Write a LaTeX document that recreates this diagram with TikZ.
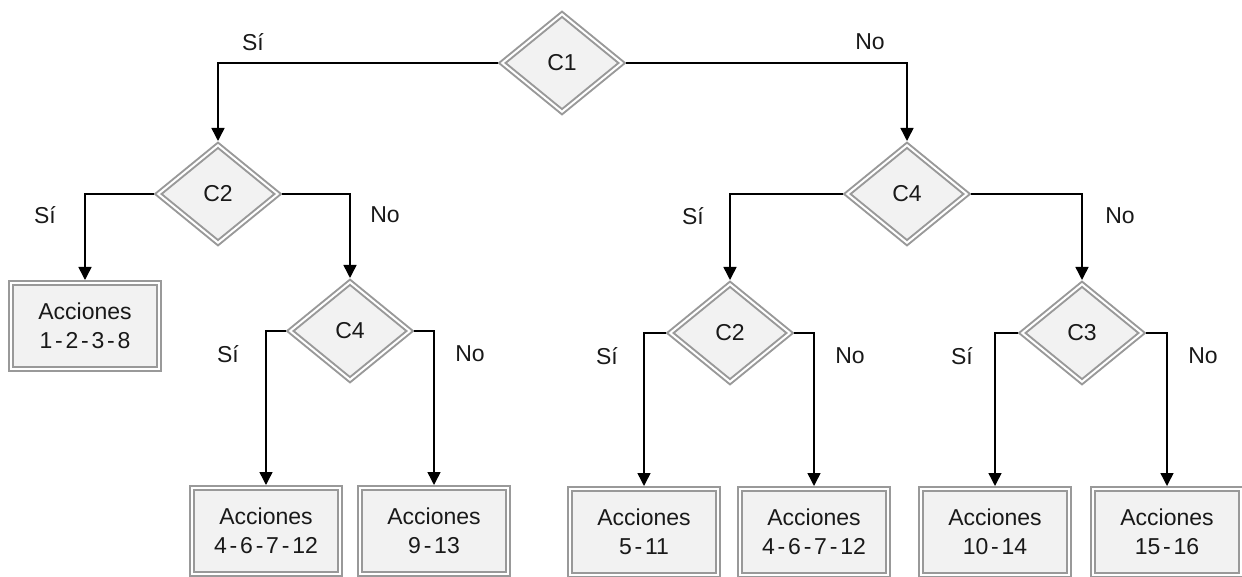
\documentclass[tikz,border=0pt]{standalone}
\usepackage{fontspec}
\setmainfont{Liberation Sans}
\usetikzlibrary{shapes.geometric,arrows.meta}

\newcommand\gd{\kern1.4pt-\kern1.4pt}

\tikzset{
  cond/.style={diamond, draw=gray!80, double=white, double distance=1pt, line width=1pt,
    fill=gray!10, minimum width=61pt, minimum height=50pt, inner sep=0pt, outer sep=1.5pt,
    text=black!90, font=\fontsize{11.5}{14}\selectfont},
  accion/.style={rectangle, draw=gray!80, double=white, double distance=1pt, line width=1pt,
    fill=gray!10, minimum width=74pt, minimum height=43pt, inner sep=0pt, outer sep=1.5pt,
    align=center, text=black!90, font=\fontsize{11.5}{14.5}\selectfont},
  flecha/.style={black, line width=0.75pt, -{Triangle[width=6.5pt,length=6.5pt]}},
  rama/.style={text=black!90, font=\fontsize{11.5}{14}\selectfont}
}

\begin{document}
\begin{tikzpicture}[x=0.5pt,y=-0.5pt]
            \useasboundingbox (0,0) rectangle (1242,577);

            % condiciones
            \node[cond] (c1) at (562,63) {C1};
            \node[cond] (c2l) at (218,194) {C2};
            \node[cond] (c4l) at (350,331) {C4};
            \node[cond] (c4r) at (907,194) {C4};
            \node[cond] (c2r) at (730,333) {C2};
            \node[cond] (c3) at (1082,333) {C3};

            % acciones
            \node[accion] (a1) at (85,326) {Acciones\\1\gd 2\gd 3\gd 8};
            \node[accion] (a2) at (266,531) {Acciones\\4\gd 6\gd 7\gd 12};
            \node[accion] (a3) at (434,531) {Acciones\\9\gd 13};
            \node[accion] (a4) at (644,532) {Acciones\\5\gd 11};
            \node[accion] (a5) at (814,532) {Acciones\\4\gd 6\gd 7\gd 12};
            \node[accion] (a6) at (995,532) {Acciones\\10\gd 14};
            \node[accion] (a7) at (1167,532) {Acciones\\15\gd 16};

            \draw[flecha] (c1.west) -| (c2l.north);
            \draw[flecha] (c1.east) -| (c4r.north);
            \draw[flecha] (c2l.west) -| (a1.north);
            \draw[flecha] (c2l.east) -| (c4l.north);
            \draw[flecha] (c4l.west) -| (a2.north);
            \draw[flecha] (c4l.east) -| (a3.north);
            \draw[flecha] (c4r.west) -| (c2r.north);
            \draw[flecha] (c4r.east) -| (c3.north);
            \draw[flecha] (c2r.west) -| (a4.north);
            \draw[flecha] (c2r.east) -| (a5.north);
            \draw[flecha] (c3.west) -| (a6.north);
            \draw[flecha] (c3.east) -| (a7.north);

            % ramas
            \node[rama] (s1) at (253,42) {Sí};
            \node[rama] (n1) at (870,42) {No};
            \node[rama] (s2) at (45,215) {Sí};
            \node[rama] (n2) at (385,215) {No};
            \node[rama] (s3) at (228,354) {Sí};
            \node[rama] (n3) at (470,354) {No};
            \node[rama] (s4) at (693,216) {Sí};
            \node[rama] (n4) at (1120,216) {No};
            \node[rama] (s5) at (607,356) {Sí};
            \node[rama] (n5) at (850,356) {No};
            \node[rama] (s6) at (962,356) {Sí};
            \node[rama] (n6) at (1203,356) {No};
\end{tikzpicture}
\end{document}
